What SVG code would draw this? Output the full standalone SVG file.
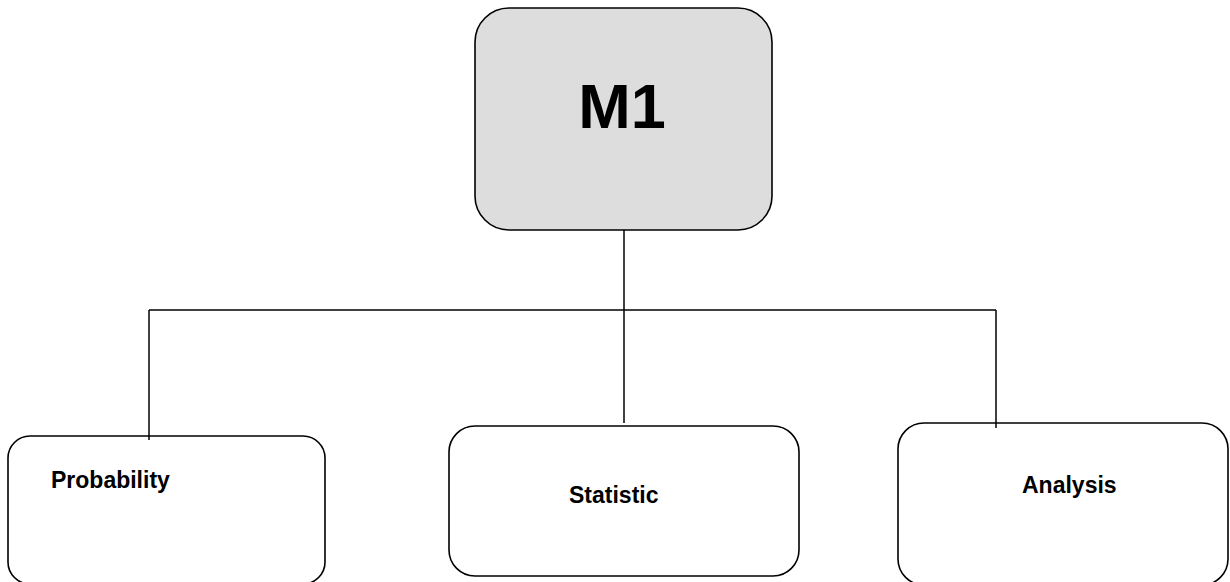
<svg xmlns="http://www.w3.org/2000/svg" width="1230" height="582" viewBox="0 0 1230 582">
<style>
.box{fill:#ffffff;stroke:#000000;stroke-width:1.6}
.root{fill:#dddddd;stroke:#000000;stroke-width:1.6}
.lbl{font-family:"Liberation Sans",Arial,sans-serif;font-weight:bold;font-size:23px;fill:#000000}
.big{font-family:"Liberation Sans",Arial,sans-serif;font-weight:bold;font-size:63px;fill:#000000}
.conn{fill:none;stroke:#000000;stroke-width:1.5}
</style>
<rect width="1230" height="582" fill="#ffffff"/>
<g id="m1">
<rect class="root" x="475" y="8" width="297" height="222" rx="34" ry="34"/>
<text class="big" x="622" y="128" text-anchor="middle">M1</text>
</g>
<g id="probability">
<rect class="box" x="8" y="436" width="317" height="148" rx="22" ry="22"/>
<text class="lbl" x="51" y="488">Probability</text>
</g>
<g id="statistic">
<rect class="box" x="449" y="426" width="350" height="150" rx="26" ry="26"/>
<text class="lbl" x="569" y="503">Statistic</text>
</g>
<g id="analysis">
<rect class="box" x="898" y="423" width="330" height="162" rx="26" ry="26"/>
<text class="lbl" x="1022" y="493">Analysis</text>
</g>
<g id="connectors">
<path class="conn" d="M624 230 V423"/>
<path class="conn" d="M149 310 H996"/>
<path class="conn" d="M149 310 V440"/>
<path class="conn" d="M996 310 V428"/>
</g>
</svg>
